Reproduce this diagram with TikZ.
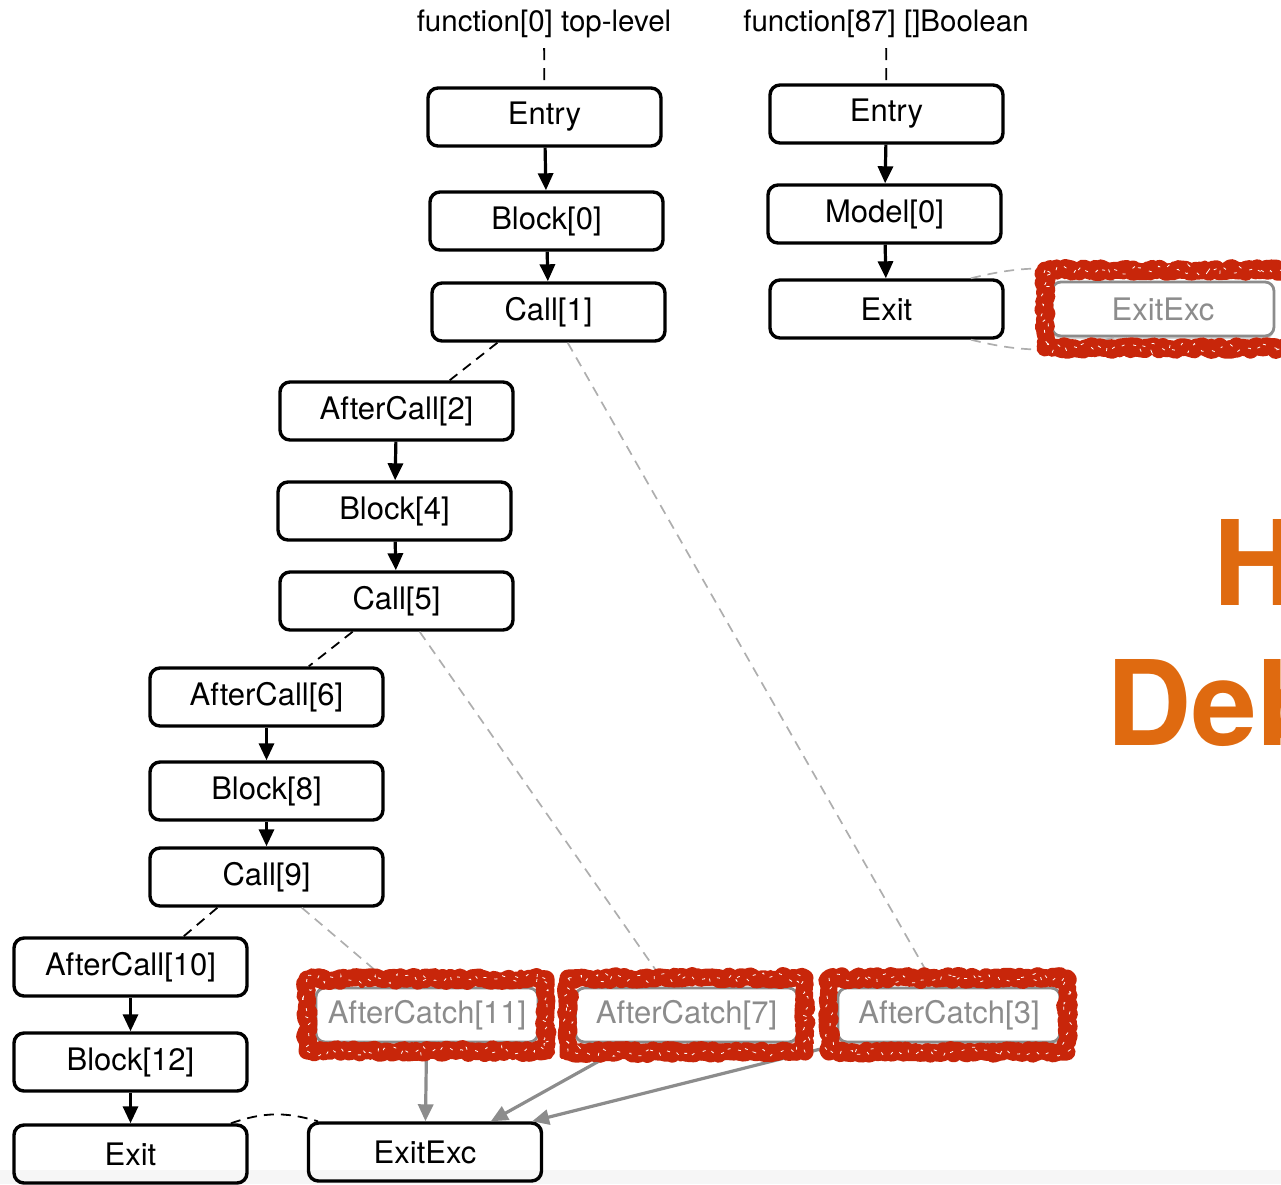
\documentclass[tikz,border=0pt]{standalone}
\usepackage{fontspec}
\setmainfont{TeX Gyre Heros}
\usepackage{xcolor}
\usetikzlibrary{arrows.meta,decorations.pathmorphing,shadows}
\definecolor{o1}{HTML}{DF6A10}
\definecolor{r1}{HTML}{C8260A}
\definecolor{g1}{HTML}{8C8C8C}

\begin{document}
\begin{tikzpicture}[x=1pt,y=-1pt,
	blk/.style = {draw, line width=3.4pt, rounded corners=10pt, minimum width=233pt, minimum height=58pt, font=\fontsize{31}{36}\selectfont},
	gblk/.style = {draw=g1, text=g1, fill=white, line width=2.8pt, rounded corners=9pt, minimum width=222pt, minimum height=54pt, font=\fontsize{31}{36}\selectfont, drop shadow={shadow xshift=0pt, shadow yshift=-3pt, fill=g1!70}},
	ttl/.style = {inner sep=10pt, font=\fontsize{29.5}{34}\selectfont},
	flow/.style = {-{Triangle[length=17pt,width=15pt]}, line width=3.2pt},
	gflow/.style = {-{Triangle[length=17pt,width=15pt]}, line width=3.2pt, g1},
	call/.style = {dash pattern=on 10pt off 7pt, line width=1.8pt},
	catch/.style = {dash pattern=on 10pt off 7pt, line width=1.7pt, g1!70},
	redmark/.style = {r1, line width=17pt, line join=round, decorate, decoration={random steps, segment length=3pt, amplitude=2.5pt}}
]
	\useasboundingbox (0,0) rectangle (1281,1184);
	\clip (0,0) rectangle (1281,1184);
	\fill[gray!7] (0,1170) rectangle (1281,1184);

	% top-level function
	\node[ttl] (t0) at (544,24) {function[0] top-level};
	\node[blk] (entry) at (544.5,117) {Entry};
	\node[blk] (block0) at (546.5,221) {Block[0]};
	\node[blk] (call1) at (548.5,312) {Call[1]};
	\node[blk] (aftercall2) at (396.5,411) {AfterCall[2]};
	\node[blk] (block4) at (394.5,511) {Block[4]};
	\node[blk] (call5) at (396.5,601) {Call[5]};
	\node[blk] (aftercall6) at (266.5,697) {AfterCall[6]};
	\node[blk] (block8) at (266.5,791) {Block[8]};
	\node[blk] (call9) at (266.5,877) {Call[9]};
	\node[blk] (aftercall10) at (130.5,967) {AfterCall[10]};
	\node[blk] (block12) at (130.5,1062) {Block[12]};
	\node[blk] (exit) at (130.5,1154) {Exit};
	\node[blk] (exitexc) at (425,1152) {ExitExc};
	\node[gblk] (aftercatch11) at (427,1015) {AfterCatch[11]};
	\node[gblk] (aftercatch7) at (686.5,1015) {AfterCatch[7]};
	\node[gblk] (aftercatch3) at (949,1015) {AfterCatch[3]};

	% function 87
	\node[ttl] (t87) at (886,24) {function[87] []Boolean};
	\node[blk] (mentry) at (886.5,114) {Entry};
	\node[blk] (model0) at (884.5,214) {Model[0]};
	\node[blk] (mexit) at (886.5,309) {Exit};
	\node[gblk] (mexitexc) at (1163,309) {ExitExc};

	\draw[call, dash pattern=on 12pt off 8pt] (t0) -- (entry);
	\draw[call, dash pattern=on 12pt off 8pt] (t87) -- (mentry);
	\foreach \a/\b in {entry/block0, block0/call1, aftercall2/block4, block4/call5, aftercall6/block8, block8/call9, aftercall10/block12, block12/exit, mentry/model0, model0/mexit}
		\draw[flow] (\a) -- (\b);

	\draw[call] (call1.211) -- (aftercall2.30);
	\draw[call] (call5.215) -- (aftercall6.36);
	\draw[call] (call9.212) -- (aftercall10.30);
	\draw[catch] (call1.302) -- (aftercatch3.116);
	\draw[catch] (call5.307) -- (aftercatch7.124);
	\draw[catch] (call9.319) -- (aftercatch11.139);
	\draw[gflow] (aftercatch11) -- (exitexc);
	\draw[gflow] (aftercatch7.207) -- (exitexc.25);
	\draw[gflow] (aftercatch3.195) -- (exitexc.16);
	\draw[call] (exit.17) to[bend left=18] (exitexc.164);
	\draw[catch] (mexit.20) to[bend left=15] (mexitexc.150);
	\draw[catch] (mexit.-20) to[bend right=15] (mexitexc.210);

	% red marks
	\foreach \xa/\xb/\ya/\yb in {307/546/979/1051, 568/805/978/1052, 829/1067/978/1052, 1045/1295/270/348}
	{
		\draw[redmark] (\xa,\ya) rectangle (\xb,\yb);
		\draw[redmark, line width=7pt, decoration={random steps, segment length=2pt, amplitude=6pt}] (\xa,\ya) rectangle (\xb,\yb);
		\draw[white, line width=0.8pt, dash pattern=on 3pt off 9pt, decorate, decoration={random steps, segment length=4pt, amplitude=5pt}] (\xa,\ya) rectangle (\xb,\yb);
	}

	\node[anchor=base west, inner sep=0pt, o1, font=\fontsize{118}{120}\selectfont\bfseries] (how) at (1213,605) {H};
	\node[anchor=base west, inner sep=0pt, o1, font=\fontsize{118}{120}\selectfont\bfseries] (deb) at (1106,745) {Deb};
\end{tikzpicture}
\end{document}
